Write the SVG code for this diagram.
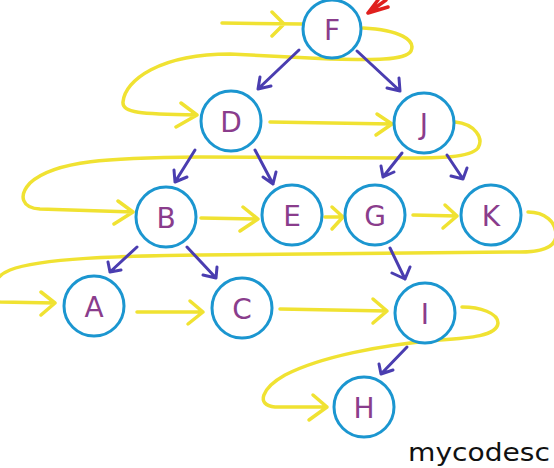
<svg xmlns="http://www.w3.org/2000/svg" width="554" height="468" viewBox="0 0 554 468">
<defs>
<style>
.node circle{fill:#ffffff;stroke:#1b96d0;stroke-width:3}
.node text{font-family:"DejaVu Sans",sans-serif;font-size:28px;fill:#8a3d8c;text-anchor:middle;dominant-baseline:central}
.yl{fill:none;stroke:#f0e232;stroke-width:3.5;stroke-linecap:round;stroke-linejoin:round}
.bl{fill:none;stroke:#4a3db0;stroke-width:3;stroke-linecap:round;stroke-linejoin:round}
.rd{fill:none;stroke:#e0201e;stroke-width:3.5;stroke-linecap:round;stroke-linejoin:round}
</style>
</defs>
<rect width="554" height="468" fill="#ffffff"/>
<g id="connectors">
<g id="traversal">
<path class="yl" d="M222,23 L302,24 M272,12 L284,24 L272,36"/>
<path class="yl" d="M363,28 C400,30 416,40 411,51 C405,61 370,60 330,59 L230,54 C160,54 125,80 123,102 C122,113 140,114 197,115 M181,103 L197,115 L176,127"/>
<path class="yl" d="M270,122 L392,124 M377,114 L392,124 L376,135"/>
<path class="yl" d="M455,122 C475,124 484,138 478,148 C470,158 440,158 400,158 L200,157 C110,158 55,160 30,183 C18,196 22,208 40,209 L133,212 M118,201 L133,212 L114,224"/>
<path class="yl" d="M201,218 L258,219 M243,207 L258,219 L240,231"/>
<path class="yl" d="M325,217 L343,217 M332,207 L343,217 L332,229"/>
<path class="yl" d="M413,215 L457,216 M445,205 L457,216 L443,228"/>
<path class="yl" d="M528,212 C545,212 556,222 556,235 C556,248 540,252 520,252 L200,255 C120,256 40,258 10,270 C-10,278 -12,300 0,302 L55,303 M41,292 L55,303 L41,315"/>
<path class="yl" d="M137,312 L203,312 M190,301 L203,312 L188,324"/>
<path class="yl" d="M280,309 L387,311 M373,299 L387,311 L373,323"/>
<path class="yl" d="M462,307 C480,307 498,313 498,323 C497,336 470,338 440,340 C380,345 320,357 285,375 C262,388 255,405 275,407 L327,407 M313,395 L327,407 L309,420"/>
</g>
<g id="edges">
<path class="bl" d="M299,50 L258,89 M260,77 L258,89 L271,86"/>
<path class="bl" d="M357,51 L400,91 M399,78 L400,91 L387,88"/>
<path class="bl" d="M195,150 L175,182 M174,170 L175,182 L187,177"/>
<path class="bl" d="M255,150 L273,184 M263,177 L273,184 L276,172"/>
<path class="bl" d="M402,153 L383,177 M381,166 L383,177 L394,172"/>
<path class="bl" d="M447,155 L463,179 M451,176 L463,179 L467,168"/>
<path class="bl" d="M137,247 L110,272 M108,262 L110,272 L121,270"/>
<path class="bl" d="M187,247 L216,278 M203,275 L216,278 L217,267"/>
<path class="bl" d="M390,248 L405,279 M392,273 L405,279 L410,267"/>
<path class="bl" d="M407,347 L381,374 M379,364 L381,374 L393,370"/>
</g>
<path id="start-marker" class="rd" d="M378,0 L368,13 L388,7 M368,13 L386,0"/>
</g>
<g id="node-F" class="node"><circle cx="332" cy="29" r="29"/><text x="332" y="30">F</text></g>
<g id="node-D" class="node"><circle cx="231" cy="121" r="30"/><text x="231" y="122">D</text></g>
<g id="node-J" class="node"><circle cx="424" cy="123" r="30"/><text x="424" y="124">J</text></g>
<g id="node-B" class="node"><circle cx="166" cy="217" r="30"/><text x="166" y="218">B</text></g>
<g id="node-E" class="node"><circle cx="292" cy="215" r="30"/><text x="292" y="216">E</text></g>
<g id="node-G" class="node"><circle cx="375" cy="215" r="30"/><text x="375" y="216">G</text></g>
<g id="node-K" class="node"><circle cx="491" cy="215" r="30"/><text x="491" y="216">K</text></g>
<g id="node-A" class="node"><circle cx="94" cy="306" r="30"/><text x="94" y="307">A</text></g>
<g id="node-C" class="node"><circle cx="242" cy="308" r="30"/><text x="242" y="309">C</text></g>
<g id="node-I" class="node"><circle cx="425" cy="313" r="30"/><text x="425" y="314">I</text></g>
<g id="node-H" class="node"><circle cx="364" cy="407" r="30"/><text x="364" y="408">H</text></g>
<text x="408" y="461" font-family="DejaVu Sans, sans-serif" font-size="25" fill="#111111" textLength="142" lengthAdjust="spacingAndGlyphs">mycodesc</text>
</svg>
